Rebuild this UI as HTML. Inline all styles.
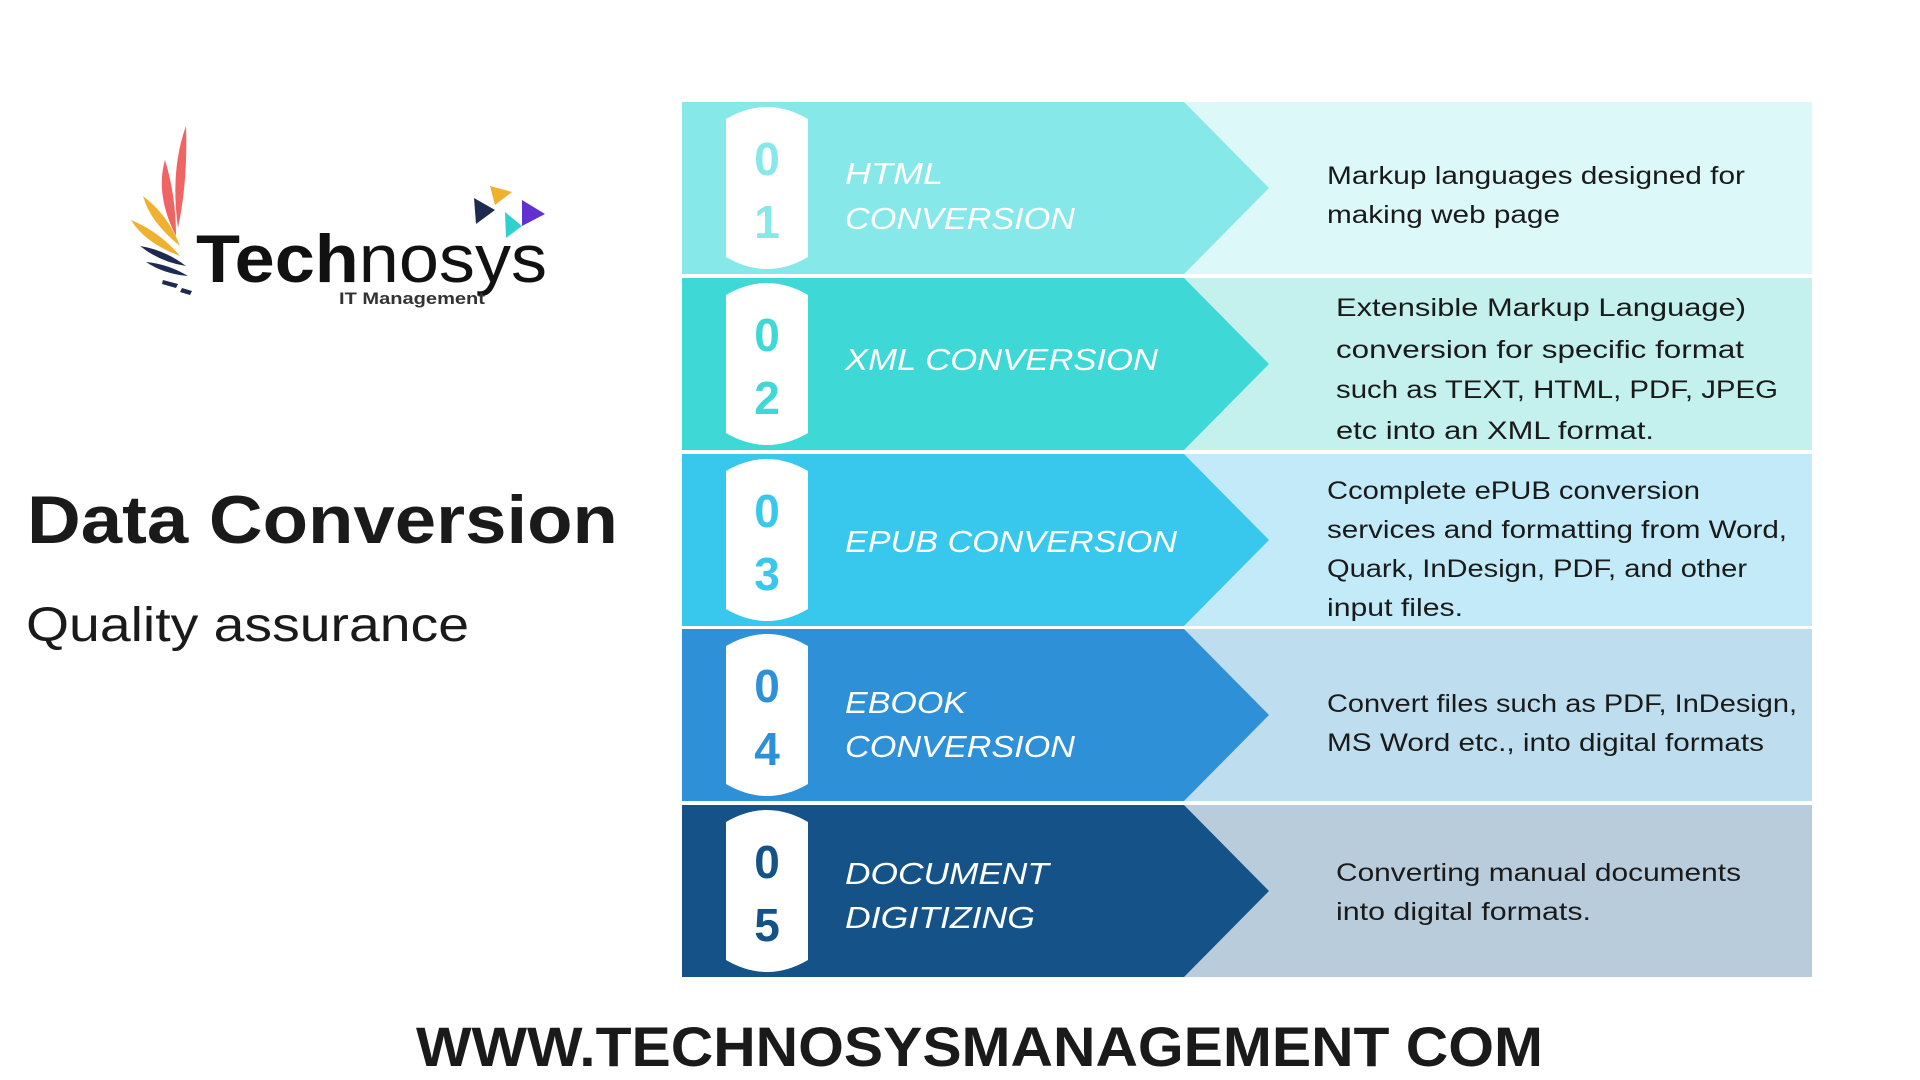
<!DOCTYPE html>
<html><head><meta charset="utf-8"><style>html,body{margin:0;padding:0;background:#fff;}svg{display:block}</style></head>
<body>
<svg width="1920" height="1080" viewBox="0 0 1920 1080" xmlns="http://www.w3.org/2000/svg" font-family="Liberation Sans, sans-serif">
<rect width="1920" height="1080" fill="#fff"/>
<g>
<path d="M186,126 Q170,170 178,228 Q188,180 186,126Z" fill="#f06464"/>
<path d="M165,160 Q155,195 176,236 Q176,196 165,160Z" fill="#f06464"/>
<path d="M143,196 Q150,222 180,246 Q168,215 143,196Z" fill="#f0b030"/>
<path d="M131,220 Q145,243 180,256 Q160,232 131,220Z" fill="#f0b030"/>
<path d="M140,246 Q160,262 186,266 Q165,250 140,246Z" fill="#1e2a50"/>
<path d="M146,262 Q164,274 188,276 Q168,264 146,262Z" fill="#1e2a50"/>
<path d="M163,280 L178,284 L176,288 L162,284Z" fill="#1e2a50"/>
<path d="M182,288 L192,291 L190,295 L180,292Z" fill="#1e2a50"/>
<polygon points="490,186 512,192 495,205" fill="#f0b030"/>
<polygon points="474,198 495,210 476,224" fill="#1e2a50"/>
<polygon points="522,200 545,214 522,226" fill="#6030d0"/>
<polygon points="505,212 522,226 506,238" fill="#30d0d0"/>
<text x="196" y="282" font-size="68" fill="#111" textLength="351" lengthAdjust="spacingAndGlyphs"><tspan font-weight="bold">Tech</tspan>nosys</text>
<text x="339" y="304" font-size="17" font-weight="bold" fill="#333" textLength="146" lengthAdjust="spacingAndGlyphs">IT Management</text>
</g>
<text x="27" y="543" font-size="68" font-weight="bold" fill="#1a1a1a" textLength="591" lengthAdjust="spacingAndGlyphs">Data Conversion</text>
<text x="26" y="641" font-size="48" fill="#1a1a1a" textLength="443" lengthAdjust="spacingAndGlyphs">Quality assurance</text>
<text x="416" y="1066" font-size="56" font-weight="bold" fill="#1a1a1a" textLength="1127" lengthAdjust="spacingAndGlyphs">WWW.TECHNOSYSMANAGEMENT COM</text>

<g font-size="25" fill="#1a1a1a">
<rect x="682" y="102" width="1130" height="172" fill="#ddf8f8"/>
<polygon points="682,102 1184,102 1269,188 1184,274 682,274" fill="#86e8e8"/>
<path d="M726,119 Q767,95 808,119 L808,257 Q767,281 726,257Z" fill="#fff"/>
<text x="767" y="175" font-size="46" font-weight="900" fill="#86e8e8" text-anchor="middle">0</text>
<text x="767" y="238" font-size="46" font-weight="900" fill="#86e8e8" text-anchor="middle">1</text>
<text x="845" y="184" font-size="31" font-style="italic" fill="#fff" textLength="98" lengthAdjust="spacingAndGlyphs">HTML</text>
<text x="845" y="229" font-size="31" font-style="italic" fill="#fff" textLength="230" lengthAdjust="spacingAndGlyphs">CONVERSION</text>
<text x="1327" y="184" textLength="418" lengthAdjust="spacingAndGlyphs">Markup languages designed for</text>
<text x="1327" y="223" textLength="233" lengthAdjust="spacingAndGlyphs">making web page</text>

<rect x="682" y="278" width="1130" height="172" fill="#c4f0ee"/>
<polygon points="682,278 1184,278 1269,364 1184,450 682,450" fill="#3ed8d6"/>
<path d="M726,295 Q767,271 808,295 L808,433 Q767,457 726,433Z" fill="#fff"/>
<text x="767" y="351" font-size="46" font-weight="900" fill="#3ed8d6" text-anchor="middle">0</text>
<text x="767" y="414" font-size="46" font-weight="900" fill="#3ed8d6" text-anchor="middle">2</text>
<text x="845" y="370" font-size="31" font-style="italic" fill="#fff" textLength="313" lengthAdjust="spacingAndGlyphs">XML CONVERSION</text>
<text x="1336" y="316" textLength="410" lengthAdjust="spacingAndGlyphs">Extensible Markup Language)</text>
<text x="1336" y="358" textLength="408" lengthAdjust="spacingAndGlyphs">conversion for specific format</text>
<text x="1336" y="398" textLength="442" lengthAdjust="spacingAndGlyphs">such as TEXT, HTML, PDF, JPEG</text>
<text x="1336" y="439" textLength="318" lengthAdjust="spacingAndGlyphs">etc into an XML format.</text>

<rect x="682" y="454" width="1130" height="172" fill="#c2eaf8"/>
<polygon points="682,454 1184,454 1269,540 1184,626 682,626" fill="#38c8ee"/>
<path d="M726,471 Q767,447 808,471 L808,609 Q767,633 726,609Z" fill="#fff"/>
<text x="767" y="527" font-size="46" font-weight="900" fill="#38c8ee" text-anchor="middle">0</text>
<text x="767" y="590" font-size="46" font-weight="900" fill="#38c8ee" text-anchor="middle">3</text>
<text x="845" y="552" font-size="31" font-style="italic" fill="#fff" textLength="332" lengthAdjust="spacingAndGlyphs">EPUB CONVERSION</text>
<text x="1327" y="499" textLength="373" lengthAdjust="spacingAndGlyphs">Ccomplete ePUB conversion</text>
<text x="1327" y="538" textLength="460" lengthAdjust="spacingAndGlyphs">services and formatting from Word,</text>
<text x="1327" y="577" textLength="420" lengthAdjust="spacingAndGlyphs">Quark, InDesign, PDF, and other</text>
<text x="1327" y="616" textLength="136" lengthAdjust="spacingAndGlyphs">input files.</text>

<rect x="682" y="629" width="1130" height="172" fill="#bedef0"/>
<polygon points="682,629 1184,629 1269,715 1184,801 682,801" fill="#2e90d6"/>
<path d="M726,646 Q767,622 808,646 L808,784 Q767,808 726,784Z" fill="#fff"/>
<text x="767" y="702" font-size="46" font-weight="900" fill="#2e90d6" text-anchor="middle">0</text>
<text x="767" y="765" font-size="46" font-weight="900" fill="#2e90d6" text-anchor="middle">4</text>
<text x="845" y="713" font-size="31" font-style="italic" fill="#fff" textLength="121" lengthAdjust="spacingAndGlyphs">EBOOK</text>
<text x="845" y="757" font-size="31" font-style="italic" fill="#fff" textLength="230" lengthAdjust="spacingAndGlyphs">CONVERSION</text>
<text x="1327" y="712" textLength="470" lengthAdjust="spacingAndGlyphs">Convert files such as PDF, InDesign,</text>
<text x="1327" y="751" textLength="437" lengthAdjust="spacingAndGlyphs">MS Word etc., into digital formats</text>

<rect x="682" y="805" width="1130" height="172" fill="#b8ccdc"/>
<polygon points="682,805 1184,805 1269,891 1184,977 682,977" fill="#155288"/>
<path d="M726,822 Q767,798 808,822 L808,960 Q767,984 726,960Z" fill="#fff"/>
<text x="767" y="878" font-size="46" font-weight="900" fill="#155288" text-anchor="middle">0</text>
<text x="767" y="941" font-size="46" font-weight="900" fill="#155288" text-anchor="middle">5</text>
<text x="845" y="884" font-size="31" font-style="italic" fill="#fff" textLength="204" lengthAdjust="spacingAndGlyphs">DOCUMENT</text>
<text x="845" y="928" font-size="31" font-style="italic" fill="#fff" textLength="190" lengthAdjust="spacingAndGlyphs">DIGITIZING</text>
<text x="1336" y="881" textLength="405" lengthAdjust="spacingAndGlyphs">Converting manual documents</text>
<text x="1336" y="920" textLength="255" lengthAdjust="spacingAndGlyphs">into digital formats.</text>
</g>
</svg>
</body></html>
